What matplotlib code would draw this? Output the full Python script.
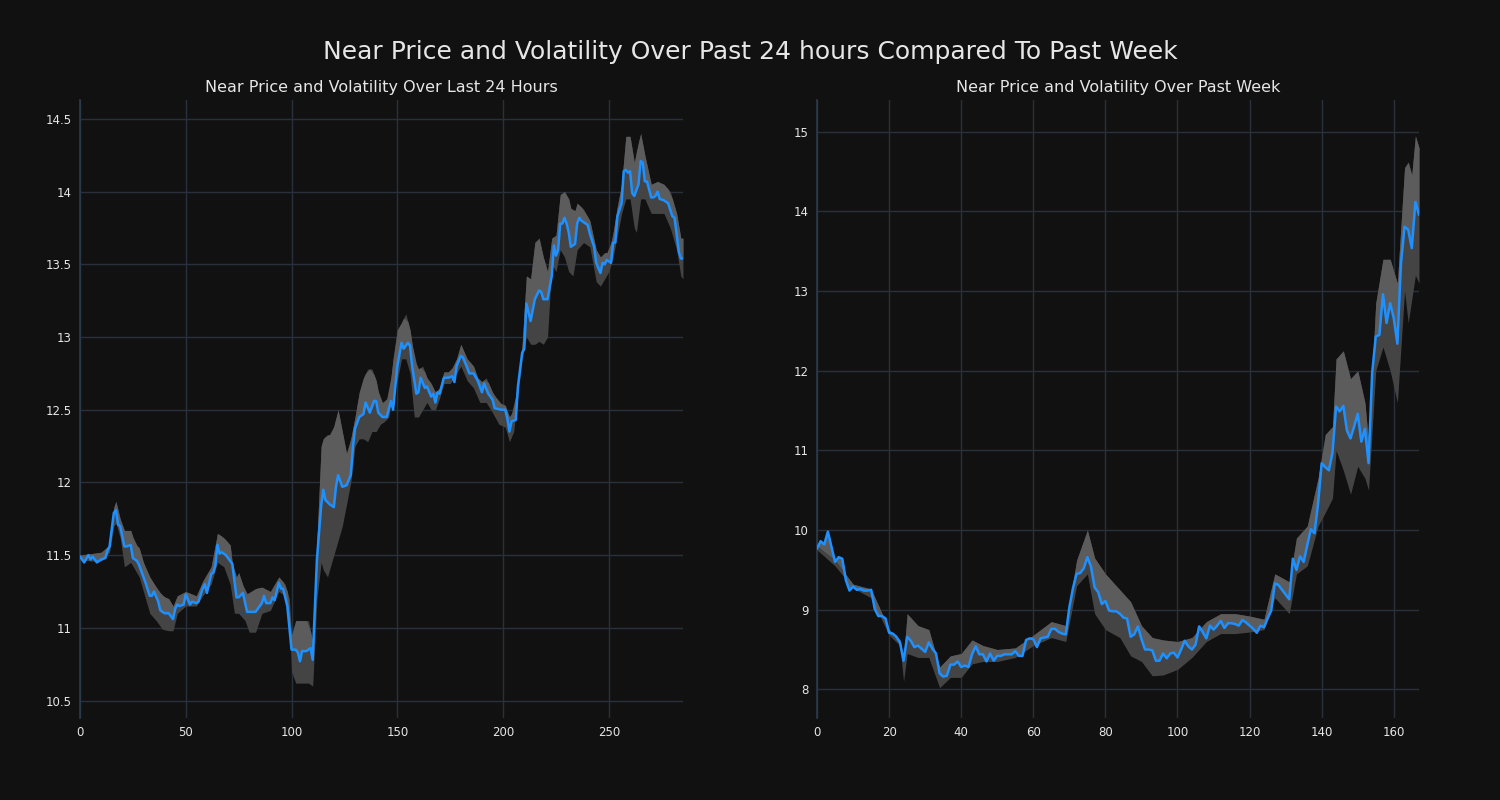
import matplotlib
matplotlib.use("Agg")
import matplotlib.pyplot as plt
import numpy as np
from matplotlib.ticker import FuncFormatter, MultipleLocator

# ---------------- data: last 24 hours (5-minute steps) ----------------
day_x = [0, 2, 4, 5, 6, 8, 10, 12, 13, 14, 16, 17, 18, 19, 21, 22, 24, 25, 27, 28,
         30, 31, 33, 34, 35, 37, 38, 40, 42, 44, 45, 46, 47, 49, 50, 52, 53, 55, 56, 58,
         59, 60, 62, 63, 64, 65, 66, 67, 69, 70, 71, 72, 74, 75, 77, 79, 83, 86, 87, 88,
         90, 91, 92, 94, 95, 96, 98, 100, 102, 103, 104, 105, 107, 109, 110, 112, 114, 115, 116, 118,
         120, 121, 122, 124, 126, 128, 129, 130, 132, 134, 135, 137, 139, 140, 141, 143, 145, 147, 148, 150,
         152, 153, 155, 156, 157, 159, 160, 161, 163, 164, 166, 167, 168, 169, 170, 172, 174, 176, 177, 178,
         180, 181, 183, 184, 186, 188, 190, 191, 193, 195, 196, 199, 201, 202, 203, 204, 206, 207, 209, 210,
         211, 213, 215, 217, 218, 219, 221, 223, 224, 225, 226, 227, 228, 229, 230, 231, 232, 234, 235, 236,
         237, 240, 241, 243, 244, 246, 247, 248, 249, 251, 252, 253, 254, 256, 257, 258, 259, 260, 261, 262,
         264, 265, 266, 267, 268, 270, 271, 272, 273, 274, 276, 278, 280, 281, 282, 283, 284, 285]
day_price = [11.49, 11.45, 11.50, 11.47, 11.49, 11.45, 11.47, 11.48, 11.53, 11.56, 11.79, 11.81, 11.71, 11.70, 11.56, 11.56, 11.57, 11.48, 11.46, 11.43,
             11.35, 11.31, 11.22, 11.22, 11.25, 11.18, 11.12, 11.10, 11.10, 11.06, 11.13, 11.16, 11.15, 11.16, 11.23, 11.16, 11.18, 11.17, 11.18, 11.27,
             11.30, 11.24, 11.37, 11.38, 11.43, 11.57, 11.51, 11.52, 11.50, 11.48, 11.46, 11.44, 11.21, 11.21, 11.24, 11.11, 11.11, 11.17, 11.22, 11.17,
             11.17, 11.21, 11.19, 11.31, 11.27, 11.27, 11.15, 10.85, 10.85, 10.83, 10.77, 10.84, 10.84, 10.86, 10.78, 11.47, 11.84, 11.95, 11.88, 11.85,
             11.83, 11.97, 12.05, 11.97, 11.98, 12.05, 12.24, 12.37, 12.45, 12.47, 12.55, 12.48, 12.56, 12.56, 12.48, 12.45, 12.45, 12.56, 12.50, 12.80,
             12.96, 12.92, 12.96, 12.94, 12.80, 12.61, 12.62, 12.72, 12.65, 12.66, 12.59, 12.61, 12.55, 12.62, 12.61, 12.72, 12.72, 12.73, 12.69, 12.80,
             12.87, 12.86, 12.79, 12.75, 12.75, 12.70, 12.62, 12.68, 12.61, 12.57, 12.51, 12.50, 12.50, 12.44, 12.35, 12.42, 12.43, 12.66, 12.89, 12.92,
             13.23, 13.11, 13.26, 13.32, 13.31, 13.26, 13.26, 13.42, 13.63, 13.56, 13.60, 13.78, 13.78, 13.82, 13.78, 13.72, 13.62, 13.64, 13.78, 13.82,
             13.80, 13.77, 13.71, 13.62, 13.51, 13.44, 13.51, 13.50, 13.53, 13.51, 13.65, 13.65, 13.83, 13.92, 14.14, 14.15, 14.13, 14.14, 13.99, 13.97,
             14.05, 14.21, 14.20, 14.07, 14.07, 13.96, 13.96, 13.97, 14.00, 13.95, 13.94, 13.92, 13.83, 13.82, 13.71, 13.59, 13.54, 13.54]

day_band_x = [0, 5, 10, 14, 16, 17, 19, 21, 24, 26, 28, 30, 33, 36, 39, 42, 44, 46, 50, 55,
              58, 62, 65, 68, 71, 73, 75, 78, 80, 83, 86, 90, 94, 97, 99, 100, 102, 105, 108, 110,
              112, 114, 115, 117, 119, 122, 124, 126, 128, 130, 132, 134, 136, 138, 140, 142, 144, 146, 148, 150,
              152, 154, 156, 158, 160, 162, 164, 166, 168, 170, 172, 175, 178, 180, 183, 186, 189, 192, 195, 198,
              201, 203, 205, 207, 209, 211, 213, 215, 217, 219, 221, 223, 225, 227, 229, 231, 233, 235, 238, 241,
              244, 246, 248, 250, 252, 254, 256, 258, 260, 262, 263, 265, 267, 270, 273, 276, 279, 282, 284, 285]
day_low = [11.47, 11.46, 11.46, 11.52, 11.70, 11.72, 11.62, 11.42, 11.45, 11.40, 11.35, 11.25, 11.10, 11.05, 10.99, 10.98, 10.98, 11.10, 11.15, 11.15,
           11.22, 11.30, 11.45, 11.42, 11.30, 11.10, 11.10, 11.05, 10.97, 10.97, 11.10, 11.12, 11.25, 11.22, 11.05, 10.70, 10.62, 10.62, 10.62, 10.60,
           11.20, 11.45, 11.40, 11.35, 11.45, 11.60, 11.70, 11.85, 12.00, 12.25, 12.30, 12.30, 12.28, 12.35, 12.35, 12.40, 12.42, 12.45, 12.65, 12.70,
           12.85, 12.85, 12.75, 12.45, 12.45, 12.50, 12.55, 12.50, 12.50, 12.58, 12.68, 12.68, 12.75, 12.80, 12.70, 12.65, 12.55, 12.55, 12.48, 12.40,
           12.38, 12.28, 12.35, 12.60, 12.85, 13.00, 12.95, 12.95, 12.97, 12.95, 13.00, 13.50, 13.45, 13.60, 13.55, 13.45, 13.42, 13.60, 13.65, 13.62,
           13.38, 13.35, 13.40, 13.45, 13.55, 13.70, 13.85, 13.95, 13.95, 13.75, 13.72, 13.95, 13.95, 13.85, 13.85, 13.85, 13.75, 13.60, 13.42, 13.40]
day_high = [11.50, 11.51, 11.52, 11.57, 11.83, 11.87, 11.75, 11.67, 11.67, 11.58, 11.55, 11.45, 11.35, 11.28, 11.22, 11.20, 11.15, 11.22, 11.25, 11.22,
            11.32, 11.42, 11.65, 11.62, 11.57, 11.32, 11.38, 11.25, 11.22, 11.27, 11.28, 11.25, 11.35, 11.30, 11.20, 10.95, 11.05, 11.05, 11.05, 10.90,
            11.60, 12.25, 12.30, 12.33, 12.33, 12.50, 12.35, 12.20, 12.30, 12.45, 12.62, 12.72, 12.78, 12.78, 12.70, 12.55, 12.55, 12.60, 12.85, 13.05,
            13.10, 13.16, 13.05, 12.85, 12.78, 12.80, 12.72, 12.68, 12.62, 12.65, 12.76, 12.76, 12.85, 12.95, 12.85, 12.80, 12.68, 12.72, 12.62, 12.55,
            12.53, 12.45, 12.50, 12.70, 12.95, 13.42, 13.40, 13.65, 13.68, 13.55, 13.45, 13.68, 13.70, 13.98, 14.00, 13.95, 13.82, 13.92, 13.88, 13.80,
            13.60, 13.55, 13.58, 13.58, 13.72, 13.90, 14.05, 14.38, 14.38, 14.20, 14.28, 14.40, 14.25, 14.05, 14.07, 14.05, 14.00, 13.85, 13.68, 13.68]

# ---------------- data: past week (hourly) ----------------
week_x = [0, 1, 2, 3, 4, 5, 6, 7, 8, 9, 10, 11, 12, 13, 14, 15, 16, 17, 18, 19,
          20, 21, 22, 23, 24, 25, 26, 27, 28, 29, 30, 31, 32, 33, 34, 35, 36, 37, 38, 39,
          40, 41, 42, 43, 44, 45, 46, 47, 48, 49, 50, 51, 52, 54, 55, 56, 57, 58, 59, 60,
          61, 62, 64, 65, 66, 67, 68, 69, 70, 71, 72, 73, 74, 75, 76, 77, 78, 79, 80, 81,
          82, 83, 84, 85, 86, 87, 88, 89, 90, 91, 92, 93, 94, 95, 96, 97, 98, 99, 100, 101,
          102, 103, 104, 105, 106, 107, 108, 109, 110, 111, 112, 113, 114, 115, 116, 117, 118, 119, 120, 121,
          122, 123, 124, 125, 126, 127, 128, 129, 130, 131, 132, 133, 134, 135, 136, 137, 138, 139, 140, 141,
          142, 143, 144, 145, 146, 147, 148, 149, 150, 151, 152, 153, 154, 155, 156, 157, 158, 159, 160, 161,
          162, 163, 164, 165, 166, 167]
week_price = [9.77, 9.86, 9.82, 9.98, 9.79, 9.60, 9.66, 9.64, 9.37, 9.24, 9.29, 9.25, 9.26, 9.24, 9.24, 9.25, 9.01, 8.92, 8.92, 8.89,
              8.71, 8.70, 8.66, 8.59, 8.36, 8.66, 8.61, 8.53, 8.55, 8.51, 8.47, 8.59, 8.51, 8.45, 8.20, 8.16, 8.17, 8.31, 8.31, 8.35,
              8.28, 8.30, 8.28, 8.44, 8.54, 8.44, 8.44, 8.35, 8.45, 8.36, 8.42, 8.42, 8.44, 8.44, 8.48, 8.42, 8.42, 8.62, 8.64, 8.63,
              8.53, 8.64, 8.66, 8.76, 8.76, 8.72, 8.70, 8.69, 9.03, 9.27, 9.45, 9.46, 9.52, 9.66, 9.54, 9.28, 9.22, 9.07, 9.11, 8.99,
              8.98, 8.98, 8.95, 8.90, 8.89, 8.66, 8.69, 8.79, 8.63, 8.50, 8.50, 8.49, 8.36, 8.36, 8.45, 8.39, 8.45, 8.46, 8.40, 8.50,
              8.61, 8.54, 8.50, 8.56, 8.79, 8.72, 8.64, 8.80, 8.75, 8.80, 8.86, 8.77, 8.83, 8.83, 8.82, 8.80, 8.87, 8.84, 8.80, 8.76,
              8.71, 8.80, 8.78, 8.89, 8.99, 9.33, 9.31, 9.25, 9.19, 9.13, 9.64, 9.50, 9.67, 9.60, 9.81, 10.01, 9.96, 10.33, 10.84, 10.79,
              10.75, 10.97, 11.55, 11.49, 11.56, 11.25, 11.15, 11.30, 11.46, 11.11, 11.27, 10.84, 11.97, 12.43, 12.45, 12.96, 12.60, 12.85, 12.66, 12.34,
              13.35, 13.81, 13.77, 13.54, 14.12, 13.96]

week_band_x = [0, 5, 10, 15, 20, 23, 24, 25, 28, 31, 34, 37, 40, 43, 46, 50, 55, 60, 65, 69,
               72, 75, 77, 80, 84, 87, 90, 93, 96, 100, 104, 108, 112, 116, 120, 124, 127, 131, 133, 136,
               139, 141, 143, 144, 146, 148, 150, 152, 153, 155, 157, 159, 161, 163, 164, 165, 166, 167]
week_low = [9.75, 9.55, 9.27, 9.15, 8.68, 8.55, 8.10, 8.45, 8.40, 8.40, 8.02, 8.15, 8.15, 8.32, 8.35, 8.35, 8.40, 8.55, 8.65, 8.60,
            9.30, 9.45, 8.95, 8.75, 8.65, 8.42, 8.35, 8.17, 8.18, 8.25, 8.40, 8.60, 8.70, 8.70, 8.72, 8.75, 9.15, 8.95, 9.45, 9.55,
            10.05, 10.22, 10.40, 11.00, 10.75, 10.45, 10.80, 10.65, 10.50, 12.00, 12.30, 12.00, 11.60, 13.00, 12.60, 12.90, 13.20, 13.10]
week_high = [9.80, 9.62, 9.32, 9.26, 8.75, 8.62, 8.40, 8.95, 8.80, 8.75, 8.28, 8.42, 8.45, 8.62, 8.55, 8.50, 8.52, 8.68, 8.85, 8.80,
             9.62, 10.00, 9.65, 9.45, 9.25, 9.10, 8.80, 8.65, 8.62, 8.60, 8.65, 8.85, 8.95, 8.95, 8.92, 8.88, 9.45, 9.35, 9.90, 10.05,
             10.65, 11.20, 11.30, 12.15, 12.25, 11.90, 12.00, 11.60, 11.10, 12.85, 13.40, 13.40, 13.10, 14.55, 14.62, 14.46, 14.95, 14.80]

main_title = "Near Price and Volatility Over Past 24 hours Compared To Past Week"
left_title = "Near Price and Volatility Over Last 24 Hours"
right_title = "Near Price and Volatility Over Past Week"

# ---------------- styling ----------------
BG = "#111111"
GRID = "#28303b"
SPINE = "#2b3b4c"
LINE = "#1e90ff"
BAND_DARK = "#444444"
BAND_LIGHT = "#5c5c5c"
TXT = "#e6e6e6"

fig = plt.figure(figsize=(15, 8), dpi=100, facecolor=BG)
ax1 = fig.add_axes([0.0533, 0.1025, 0.402, 0.7725])
ax2 = fig.add_axes([0.5447, 0.1025, 0.4013, 0.7725])

fmt = FuncFormatter(lambda v, p: f"{v:g}")


def draw(ax, x, y, bx, lo, hi, xlim, ylim, xstep, ystep, title):
    ax.set_facecolor(BG)
    ax.fill_between(bx, lo, hi, color=BAND_DARK, lw=0, zorder=2)
    # lighter part of the band: between the line and the upper bound
    hi_on_line = np.interp(x, bx, hi)
    ax.fill_between(x, y, hi_on_line, color=BAND_LIGHT, lw=0, zorder=2.1)
    ax.plot(x, y, color=LINE, lw=1.8, zorder=3)
    ax.set_xlim(*xlim)
    ax.set_ylim(*ylim)
    ax.xaxis.set_major_locator(MultipleLocator(xstep))
    ax.yaxis.set_major_locator(MultipleLocator(ystep))
    ax.yaxis.set_major_formatter(fmt)
    ax.xaxis.set_major_formatter(fmt)
    ax.grid(True, color=GRID, lw=1.0, zorder=1)
    ax.set_axisbelow(True)
    for s in ["top", "right", "bottom"]:
        ax.spines[s].set_visible(False)
    ax.spines["left"].set_color(SPINE)
    ax.spines["left"].set_linewidth(1.2)
    ax.tick_params(colors=TXT, labelsize=8.5, length=0, pad=6)
    ax.set_title(title, color=TXT, fontsize=11.5, pad=6)


draw(ax1, day_x, day_price, day_band_x, day_low, day_high,
     (0, 285), (10.38, 14.63), 50, 0.5, left_title)
draw(ax2, week_x, week_price, week_band_x, week_low, week_high,
     (0, 167), (7.64, 15.40), 20, 1, right_title)

fig.suptitle(main_title, color=TXT, fontsize=18, y=0.95)

fig.savefig("out.png", facecolor=BG, dpi=100)
